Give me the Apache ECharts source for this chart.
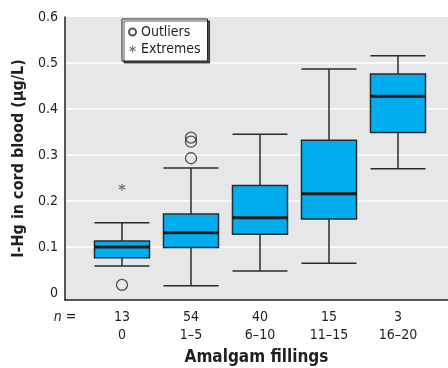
<!DOCTYPE html>
<html>
<head>
<meta charset="utf-8">
<script src="https://cdn.jsdelivr.net/npm/echarts@6/dist/echarts.min.js"></script>
<style>
  html, body { margin: 0; padding: 0; background: #fff; }
  #chart { width: 448px; height: 368px; }
</style>
</head>
<body>
<div id="chart"></div>
<script>
// Inorganic mercury in cord blood by number of maternal amalgam fillings
const fillings = ['0', '1–5', '6–10', '11–15', '16–20'];
const counts = [13, 54, 40, 15, 3];
const whiskerLow = [0.059, 0.016, 0.048, 0.065, 0.270];
const quartile1 = [0.077, 0.099, 0.128, 0.161, 0.349];
const medians = [0.100, 0.131, 0.164, 0.216, 0.428];
const quartile3 = [0.113, 0.172, 0.234, 0.332, 0.476];
const whiskerHigh = [0.153, 0.272, 0.345, 0.487, 0.516];
const outliers = [[0, 0.018], [1, 0.293], [1, 0.329], [1, 0.338]];
const extremes = [[0, 0.230]];
const yTicks = [0, 0.1, 0.2, 0.3, 0.4, 0.5, 0.6];
const gridValues = [0.1, 0.2, 0.3, 0.4, 0.5];

const INK = '#231f20';
const FONT = '"Liberation Sans Narrow", "DejaVu Sans Condensed", "Arial Narrow", sans-serif';
const BOX_W = 55;
const X_MIN = -0.826;
const ASTERISK = 'path://M-0.8,-5L0.8,-5L0.8,5L-0.8,5Z' +
  'M3.93,-3.193L4.73,-1.807L-3.93,3.193L-4.73,1.807Z' +
  'M4.73,1.807L3.93,3.193L-4.73,-1.807L-3.93,-3.193Z';

const boxData = fillings.map((_, i) =>
  [i, whiskerLow[i], quartile1[i], medians[i], quartile3[i], whiskerHigh[i]]);

function renderBox(params, api) {
  const x = api.value(0);
  const lo = api.coord([x, api.value(1)]);
  const q1 = api.coord([x, api.value(2)]);
  const md = api.coord([x, api.value(3)]);
  const q3 = api.coord([x, api.value(4)]);
  const hi = api.coord([x, api.value(5)]);
  const cx = lo[0], h = BOX_W / 2;
  const ln = { stroke: '#2b2b2b', lineWidth: 1.5 };
  return {
    type: 'group',
    children: [
      { type: 'line', shape: { x1: cx, y1: hi[1], x2: cx, y2: q3[1] }, style: ln },
      { type: 'line', shape: { x1: cx, y1: q1[1], x2: cx, y2: lo[1] }, style: ln },
      { type: 'line', shape: { x1: cx - h, y1: hi[1], x2: cx + h, y2: hi[1] }, style: ln },
      { type: 'line', shape: { x1: cx - h, y1: lo[1], x2: cx + h, y2: lo[1] }, style: ln },
      { type: 'rect', shape: { x: cx - h, y: q3[1], width: BOX_W, height: q1[1] - q3[1] },
        style: { fill: '#00aeef', stroke: '#2b2b2b', lineWidth: 1.5 } },
      { type: 'line', shape: { x1: cx - h, y1: md[1], x2: cx + h, y2: md[1] },
        style: { stroke: '#1a1a1a', lineWidth: 3 } }
    ]
  };
}

const chart = echarts.init(document.getElementById('chart'), null, { renderer: 'canvas' });
chart.setOption({
  animation: false,
  backgroundColor: '#fff',
  textStyle: { fontFamily: FONT, color: INK },
  grid: {
    left: 65, right: 0, top: 17, bottom: 68,
    outerBoundsMode: 'none', containLabel: false,
    show: true, backgroundColor: '#e6e7e8', borderWidth: 0
  },
  legend: {
    orient: 'vertical', left: 122, top: 19,
    data: [{ name: 'Outliers', icon: 'circle' }, { name: 'Extremes', icon: ASTERISK }],
    itemWidth: 7, itemHeight: 7, itemGap: 3,
    padding: [6, 7, 5, 6],
    backgroundColor: '#fff', borderColor: INK, borderWidth: 1,
    shadowColor: 'rgba(0,0,0,0.65)', shadowOffsetX: 2, shadowOffsetY: 2, shadowBlur: 0,
    selectedMode: false,
    textStyle: { fontFamily: FONT, fontSize: 14, color: INK, padding: [0, 0, 0, 0] }
  },
  xAxis: {
    type: 'value', min: X_MIN, max: 4.725,
    name: 'Amalgam fillings', nameLocation: 'middle', nameGap: 47,
    nameTextStyle: { fontFamily: FONT, fontSize: 17, fontWeight: 'bold', color: INK },
    axisLine: { show: true, onZero: false, lineStyle: { color: INK, width: 1.5 } },
    axisTick: { show: false },
    splitLine: { show: false },
    axisLabel: {
      customValues: [X_MIN, 0, 1, 2, 3, 4],
      margin: 8, fontSize: 14, color: INK, lineHeight: 18, fontFamily: FONT,
      formatter: v => v < 0 ? '{n|n} =' : counts[Math.round(v)] + '\n' + fillings[Math.round(v)],
      rich: { n: { fontStyle: 'italic', fontSize: 14, fontFamily: FONT, color: INK } }
    }
  },
  yAxis: {
    type: 'value', min: -0.015, max: 0.6,
    name: 'I-Hg in cord blood (μg/L)', nameLocation: 'middle', nameGap: 38,
    nameTextStyle: { fontFamily: FONT, fontSize: 16, fontWeight: 'bold', color: INK },
    axisLine: { show: true, onZero: false, lineStyle: { color: INK, width: 1.5 } },
    axisTick: { show: false, customValues: gridValues },
    splitLine: { show: true, lineStyle: { color: '#ffffff', width: 1.5 } },
    axisLabel: {
      customValues: yTicks, margin: 7, fontSize: 14, color: INK, fontFamily: FONT,
      formatter: v => String(Math.round(v * 10) / 10)
    }
  },
  series: [
    {
      name: 'Boxes', type: 'custom', renderItem: renderBox, data: boxData,
      encode: { x: 0, y: [1, 2, 3, 4, 5] }, z: 2
    },
    {
      name: 'Outliers', type: 'scatter', data: outliers, symbol: 'circle', symbolSize: 11,
      itemStyle: { color: 'rgba(0,0,0,0)', borderColor: '#2b2b2b', borderWidth: 1.3 }, z: 3
    },
    {
      name: 'Extremes', type: 'scatter', data: extremes, symbol: ASTERISK, symbolSize: 7,
      itemStyle: { color: '#555' }, z: 3
    }
  ]
});
</script>
</body>
</html>
